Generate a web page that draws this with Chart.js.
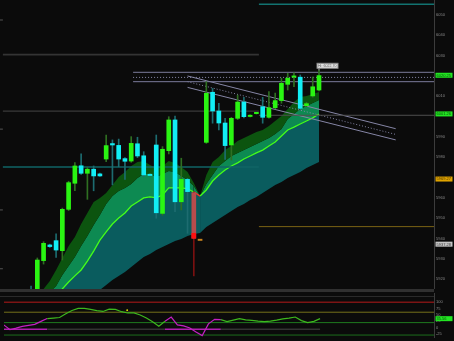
<!DOCTYPE html>
<html><head><meta charset="utf-8">
<script src="https://cdn.jsdelivr.net/npm/chart.js@4.4.1/dist/chart.umd.min.js"></script>
<style>
html,body{margin:0;padding:0;background:#0b0b0b;width:454px;height:341px;overflow:hidden;}
canvas{position:absolute;left:0;z-index:2;}
#top{top:0;}
#bot{top:289px;}
.sep{position:absolute;left:0;width:434px;z-index:1;}
</style></head>
<body>
<div class="sep" style="top:289px;height:3px;background:#303030"></div>
<div class="sep" style="top:296px;height:1px;background:#2a2a2a"></div>
<canvas id="top" width="454" height="289"></canvas>
<canvas id="bot" width="454" height="52"></canvas>
<script>
// ================= DATA =================
const candleX = [-1,0,1,2,3,4,5,6,7,8,9,10,11,12,13,14,15,16,17,18,19,20,21,22,23,24,25,26,27,28,29,30,31,32,33,34,35,36,37,38,39,40,41,42,43,44,45];
const openP  = [5914.0,5905.0,5929.2,5936.9,5939.0,5934.1,5954.4,5967.2,5975.8,5972.1,5974.1,5971.8,5979.1,5986.7,5985.8,5979.3,5978.1,5986.6,5980.7,5971.3,5986.0,5952.4,5983.2,5998.3,5958.1,5969.1,5962.6,5939.5,5987.3,6011.9,6002.7,5996.8,5986.0,5999.1,6007.1,6000.0,6001.4,6004.8,5999.6,6004.3,6007.8,6015.8,6019.3,6019.3,6005.3,6010.1,6013.0];
const highP  = [5916.7,5930.5,5938.5,5937.3,5942.3,5955.0,5968.2,5977.3,5981.6,5975.0,5975.7,5972.2,5990.9,5988.5,5988.9,5979.8,5990.1,5989.8,5982.7,5971.8,5990.9,5985.2,5999.9,6000.2,5979.5,5969.6,5963.0,5939.5,6017.1,6013.8,6006.5,5999.1,5999.6,6010.5,6009.4,6000.8,6002.0,6009.4,6012.2,6011.5,6018.8,6021.2,6021.5,6020.4,6007.0,6019.4,6022.7];
const lowP   = [5903.0,5903.0,5927.5,5935.7,5930.8,5929.5,5953.8,5963.5,5971.6,5959.3,5963.5,5970.5,5977.8,5966.4,5975.3,5969.1,5977.5,5979.8,5970.5,5970.5,5950.0,5951.5,5981.6,5953.2,5954.1,5942.6,5921.7,5939.1,5986.8,5996.7,5993.4,5978.9,5978.6,5998.5,5999.3,5999.8,6001.2,5996.7,5999.2,6003.8,6006.5,6013.0,6014.6,6003.5,6004.8,6009.5,6012.5];
const closeP = [5906.0,5929.5,5937.7,5936.1,5934.4,5954.4,5967.5,5975.7,5972.1,5974.1,5970.8,5970.8,5985.7,5986.0,5979.1,5978.0,5986.8,5980.6,5971.3,5971.0,5952.7,5983.9,5998.3,5958.1,5969.1,5963.1,5940.2,5939.1,6011.4,6002.7,5996.8,5985.7,5999.1,6007.1,5999.9,6000.5,6001.9,5999.6,6004.3,6007.8,6016.3,6018.8,6019.6,6004.0,6006.3,6014.6,6020.1];
const markX = [25];
const markRange = [[5940.2, 5942.6]];

const bandX = [0,1,2,3,4,5,6,7,8,9,10,11,12,13,14,15,16,17,18,19,20,21,22,23,24,25,26,27,28,29,30,31,32,33,34,35,36,37,38,39,40,41,42,43,44,45];
const bandUpper  = [5909.9,5915.3,5919.2,5924.6,5930.5,5936.4,5940.8,5947.2,5952.6,5958.0,5960.0,5962.4,5966.4,5970.3,5972.7,5975.7,5977.6,5978.1,5976.2,5974.7,5975.7,5978.1,5977.2,5975.2,5972.7,5967.3,5960.9,5971.3,5977.6,5980.1,5983.5,5985.5,5988.0,5989.4,5990.9,5992.4,5993.4,5995.3,5997.8,6000.2,6003.7,6007.1,6009.6,6010.1,6011.0,6012.0];
const bandMiddle = [5905.0,5909.9,5913.8,5916.7,5922.1,5926.6,5931.0,5936.4,5941.3,5946.7,5951.6,5957.0,5960.9,5963.4,5964.9,5966.8,5969.8,5971.8,5971.8,5970.3,5971.8,5973.2,5972.7,5970.8,5968.8,5965.9,5960.9,5966.8,5971.3,5975.7,5978.1,5980.6,5982.1,5983.5,5985.0,5986.5,5988.0,5989.4,5991.4,5993.9,5998.8,6001.2,6003.7,6005.2,6006.6,6008.1];
const bandCenter = [5900.0,5904.0,5907.4,5911.3,5915.3,5918.7,5921.7,5924.6,5929.0,5933.9,5939.3,5943.3,5947.2,5950.1,5952.6,5956.0,5958.0,5960.0,5960.5,5960.0,5961.4,5964.9,5964.9,5964.9,5964.4,5962.9,5960.9,5963.9,5968.3,5971.3,5973.7,5975.7,5977.2,5979.1,5980.6,5982.1,5983.5,5985.5,5987.5,5990.4,5993.4,5994.8,5996.3,5997.8,5999.3,6001.2];
const bandLower  = [5885.3,5888.0,5891.0,5894.0,5897.0,5900.0,5903.0,5905.9,5908.9,5911.8,5914.8,5917.2,5919.7,5921.7,5923.6,5926.1,5928.5,5931.0,5932.5,5934.4,5935.9,5937.4,5938.8,5939.8,5941.3,5942.3,5942.8,5945.7,5947.7,5949.6,5951.6,5953.6,5955.5,5957.0,5959.0,5960.5,5962.4,5964.4,5966.4,5967.8,5969.8,5971.3,5972.7,5974.7,5976.2,5977.6];

const levelPrice = [6055.1, 6030.4, 6021.7, 6019.2, 6017.1, 6002.6, 6000.6, 5975.2, 5945.9, 6047.4, 5993.8, 5954.1, 5925.2];
const levelFrom  = [35.4, -5.5, 15.3, 15.3, 15.3, -5.5, 35.4, -5.5, 35.4, -6, -6, -6, -6];
const levelTo    = [64, 35.4, 64, 64, 64, 35.4, 64, 35.4, 64, -5.5, -5.5, -5.5, -5.5];

const channelX = [24.0, 57.25];
const channelTop = [6019.9, 5994.0];
const channelMid = [6017.1, 5991.2];
const channelBot = [6014.3, 5988.5];

const priceTicks = [6050, 6040, 6030, 6010, 5990, 5980, 5960, 5950, 5940, 5930, 5920];
const priceBoxValues = [6020.25, 6001.26, 5969.27, 5937.28];
const priceBoxTexts  = ['6020.25', '6001.26', '5969.27', '5937.28'];
const highLabel = 'Hi: 6022.70';

const oscX = [-6,-5,-4,-3,-2,-1,0,1,2,3,4,5,6,7,8,9,10,11,12,13,14,15,16,17,18,19,20,21,22,23,24,25,26,27,28,29,30,31,32,33,34,35,36,37,38,39,40,41,42,43,44,45];
const oscValue = [11,-8,-2,5,9,13,25,36,38,40,55,68,76,76,72,67,64,73,72,63,58,58,50,38,23,6,25,42,11,7,-1,-17,-31,15,33,32,24,30,36,31,29,26,24,26,30,35,38,42,28,20,25,35.6];
const oscBear  = [1,1,1,1,1,1,1,0,0,0,0,0,0,0,0,0,0,0,0,0,0,0,0,0,0,0,1,1,1,1,1,1,1,1,1,0,0,0,0,0,0,0,0,0,0,0,0,0,0,0,0,0];
const oscLevels = [100, 61, 20, -29];
const oscBaseLevel = -6;
const oscDotX = [13.9], oscDotY = [69];
const oscTicks = [100, 75, 50, 25, 0, -25];
const oscBoxValue = 35.56, oscBoxText = '35.56';

// ================= STYLE =================
const X_MIN = -5.96, X_MAX = 63.37;
const UP = '#2af512', DOWN = '#12eef5', UP_WICK = '#2f6f22', DOWN_WICK = '#1d6c70';
const SPECIAL_BODY = {25: '#b84c4c', 26: '#c8821e'};
const SPECIAL_WICK = {25: '#7a1010', 26: 'rgba(0,0,0,0)'};
const levelColor = ['#127370','#343434','#7c7c9c','#8a8aaa','#7c7c9c','#3a3a3a','#4e4e4e','#106466','#7a6214','#555','#555','#555','#555'];
const levelWidth = [1.5,1.8,1,1,1,1.3,1,1.5,1,1,1,1,1];
const levelDash  = [[],[],[],[1,2],[],[],[],[],[],[],[],[],[]];
const RED_SEG = 25;
const oscLevelColor = ['#7d1414','#74701a','#1f7a1f','#1d6e1d'];
const oscLevelWidth = [1.5,1,1,1];
const FONT = 'Liberation Sans';

const axisTickOpts = {font:{size:4, family:FONT}, color:'#8a8a8a', padding:2, autoSkip:false, includeBounds:false,
  callback: v => String(v)};

function boxPlugin(items, hi) {
  return {
    id: 'boxes',
    afterDraw(chart) {
      const {ctx, chartArea} = chart; const ys = chart.scales.y, xs = chart.scales.x;
      ctx.save();
      ctx.font = '4px "' + FONT + '"'; ctx.textBaseline = 'middle';
      items.forEach(b => {
        const py = ys.getPixelForValue(b.value);
        ctx.fillStyle = b.bg; ctx.fillRect(chartArea.right + 1.5, py - 2.5, 17, 5);
        ctx.fillStyle = b.fg; ctx.fillText(b.text, chartArea.right + 2.5, py + 0.3);
      });
      if (hi) {
        const px = xs.getPixelForValue(hi.x), py = ys.getPixelForValue(hi.y);
        ctx.strokeStyle = '#bbb'; ctx.lineWidth = 1;
        ctx.beginPath(); ctx.moveTo(px, py); ctx.lineTo(px, py - 2); ctx.stroke();
        ctx.fillStyle = '#e4e4e4'; ctx.fillRect(px - 2, py - 7, 21, 5);
        ctx.strokeStyle = '#888'; ctx.strokeRect(px - 2, py - 7, 21, 5);
        ctx.fillStyle = '#555'; ctx.font = '3.6px "' + FONT + '"';
        ctx.fillText(hi.text, px - 1, py - 4.4);
      }
      ctx.restore();
    }
  };
}

// ================= TOP CHART =================
const pts = (xs, ys) => xs.map((x, k) => ({x, y: ys[k]}));
const isUp = k => closeP[k] >= openP[k];
const bodyColors = candleX.map((x, k) => SPECIAL_BODY[x] || (isUp(k) ? UP : DOWN));
const wickColors = candleX.map((x, k) => SPECIAL_WICK[x] || (isUp(k) ? UP_WICK : DOWN_WICK));

const lineBase = {type:'line', pointRadius:0, tension:0, borderWidth:0, fill:false};
const topDatasets = [
  Object.assign({}, lineBase, {data: pts(bandX, bandUpper), fill:'+1', backgroundColor:'#0c540f', order:10}),
  Object.assign({}, lineBase, {data: pts(bandX, bandMiddle), fill:'+1', backgroundColor:'#0d8a52', order:10}),
  Object.assign({}, lineBase, {data: pts(bandX, bandCenter), fill:'+1', backgroundColor:'#0a5c5e', borderColor:'#45ff1a', borderWidth:1.3, order:9,
     segment:{borderColor: ctx => ctx.p0DataIndex === RED_SEG ? '#ff2a2a' : undefined}}),
  Object.assign({}, lineBase, {data: pts(bandX, bandLower), order:12}),
];
levelPrice.forEach((p, k) => {
  topDatasets.push(Object.assign({}, lineBase, {data:[{x:levelFrom[k], y:p},{x:levelTo[k], y:p}], borderColor:levelColor[k], borderWidth:levelWidth[k], borderDash:levelDash[k], order:7}));
});
[[channelTop, []], [channelMid, [1,2]], [channelBot, []]].forEach(([c, dash]) => {
  topDatasets.push(Object.assign({}, lineBase, {data: pts(channelX, c), borderColor:'#8686a6', borderWidth:1, borderDash:dash, order:7}));
});
topDatasets.push({type:'bar', data: candleX.map((x,k)=>({x, y:[lowP[k], highP[k]]})), backgroundColor: wickColors, barThickness:1, grouped:false, order:5});
topDatasets.push({type:'bar', data: candleX.map((x,k)=>({x, y:[openP[k], closeP[k]]})), backgroundColor: bodyColors, barThickness:4, minBarLength:1.3, grouped:false, order:4});
topDatasets.push({type:'bar', data: markX.map((x,k)=>({x, y:markRange[k]})), backgroundColor:'#ff1010', barThickness:4, grouped:false, order:3});

const boxStyles = [
  {bg:'#22e522', fg:'#0a4a0a'}, {bg:'#22e522', fg:'#0a4a0a'}, {bg:'#e0a400', fg:'#4a3400'}, {bg:'#c4c4c4', fg:'#404040'}
];
new Chart(document.getElementById('top'), {
  type:'bar',
  data:{datasets: topDatasets},
  options:{
    responsive:false, animation:false, events:[],
    layout:{padding:0},
    plugins:{legend:{display:false}, tooltip:{enabled:false}},
    scales:{
      x:{type:'linear', min:X_MIN, max:X_MAX, display:false, offset:false},
      y:{type:'linear', position:'right', min:5915.26, max:6057.22,
         grid:{display:false, drawTicks:false}, border:{display:true, color:'#3c3c3c'},
         ticks: axisTickOpts,
         afterBuildTicks: s => { s.ticks = priceTicks.map(v => ({value:v})); },
         afterFit: s => { s.width = 20; s.paddingTop = 0; s.paddingBottom = 0; }}
    }
  },
  plugins:[boxPlugin(priceBoxValues.map((v,k)=>Object.assign({value:v, text:priceBoxTexts[k]}, boxStyles[k])),
                     {x: candleX[candleX.length-1], y: highP[highP.length-1], text: highLabel})]
});

// ================= BOTTOM CHART =================
const botDatasets = [];
oscLevels.forEach((v, k) => {
  botDatasets.push(Object.assign({}, lineBase, {data:[{x:X_MIN-1, y:v},{x:X_MAX+1, y:v}], borderColor:oscLevelColor[k], borderWidth:oscLevelWidth[k], order:8}));
});
botDatasets.push(Object.assign({}, lineBase, {data: oscX.map(x => ({x, y: oscBaseLevel})), borderColor:'#333333', borderWidth:1.5, order:7,
  segment:{borderColor: ctx => oscBear[ctx.p0DataIndex] ? '#b020b0' : '#333333'}}));
botDatasets.push(Object.assign({}, lineBase, {data: pts(oscX, oscValue), borderColor:'#3db81e', borderWidth:1.2, order:2,
  segment:{borderColor: ctx => oscBear[ctx.p0DataIndex] ? '#c41fc4' : '#3db81e'}}));
botDatasets.push({type:'line', data: pts(oscDotX, oscDotY), showLine:false, pointRadius:0.9, pointBackgroundColor:'#e6e600', pointBorderWidth:0, order:1});

new Chart(document.getElementById('bot'), {
  type:'line',
  data:{datasets: botDatasets},
  options:{
    responsive:false, animation:false, events:[],
    layout:{padding:0},
    plugins:{legend:{display:false}, tooltip:{enabled:false}},
    scales:{
      x:{type:'linear', min:X_MIN, max:X_MAX, display:false, offset:false},
      y:{type:'linear', position:'right', min:-36.67, max:136.67,
         grid:{display:false, drawTicks:false}, border:{display:true, color:'#3c3c3c'},
         ticks: axisTickOpts,
         afterBuildTicks: s => { s.ticks = oscTicks.map(v => ({value:v})); },
         afterFit: s => { s.width = 20; s.paddingTop = 0; s.paddingBottom = 0; }}
    }
  },
  plugins:[boxPlugin([{value:oscBoxValue, text:oscBoxText, bg:'#22e522', fg:'#0a4a0a'}], null)]
});
</script>
</body></html>
